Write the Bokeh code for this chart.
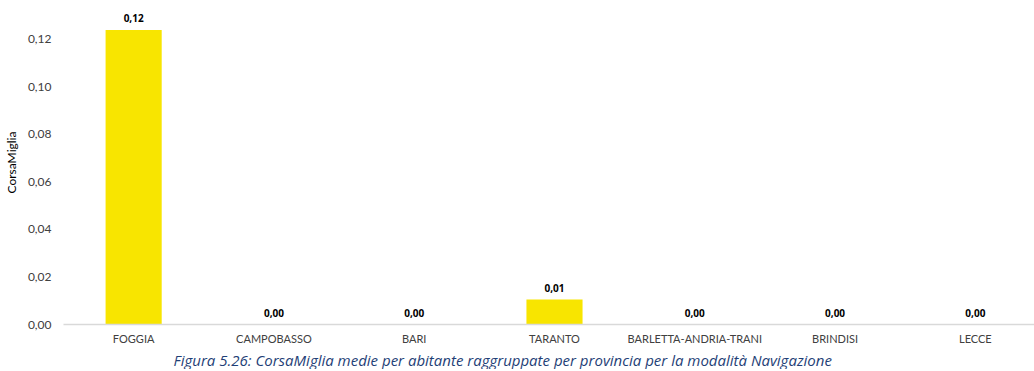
from bokeh.plotting import figure
from bokeh.models import ColumnDataSource, LabelSet, Range1d, FixedTicker, Title
from bokeh.core.properties import value
from bokeh.embed import file_html
from bokeh.resources import INLINE

provinces = ["FOGGIA", "CAMPOBASSO", "BARI", "TARANTO", "BARLETTA-ANDRIA-TRANI", "BRINDISI", "LECCE"]
values = [0.124, 0.0, 0.0, 0.0105, 0.0, 0.0, 0.0]
y_ticks = [0.0, 0.02, 0.04, 0.06, 0.08, 0.10, 0.12]
y_axis_title = "CorsaMiglia"
caption = "Figura 5.26: CorsaMiglia medie per abitante raggruppate per provincia per la modalità Navigazione"

labels = [f"{v:.2f}".replace(".", ",") for v in values]
src = ColumnDataSource(dict(x=provinces, top=values, label=labels))

FONT = "Lato"

p = figure(x_range=provinces, y_range=Range1d(0, 0.1364), frame_width=982, frame_height=324,
           output_backend="svg", toolbar_location=None,
           min_border_left=48, min_border_right=0, min_border_top=0, min_border_bottom=0)
p.outline_line_color = None
p.background_fill_color = "white"
p.border_fill_color = "white"
p.xgrid.grid_line_color = None
p.ygrid.grid_line_color = None

p.vbar(x="x", top="top", width=0.4, source=src, fill_color="#F8E500", line_color=None)

p.add_layout(LabelSet(x="x", y="top", text="label", source=src, text_align="center",
                      text_baseline="bottom", y_offset=8, text_font=value("Open Sans"),
                      text_font_size="10px", text_font_style="bold", text_color="#000000"))

# y axis
p.yaxis.ticker = FixedTicker(ticks=y_ticks)
p.yaxis.major_label_overrides = {t: f"{t:.2f}".replace(".", ",") for t in y_ticks}
p.yaxis.axis_line_color = None
p.yaxis.major_tick_line_color = None
p.yaxis.minor_tick_line_color = None
p.yaxis.major_label_text_font = FONT
p.yaxis.major_label_text_font_size = "12px"
p.yaxis.major_label_text_color = "#404040"
p.yaxis.major_label_standoff = 6
p.yaxis.axis_label = y_axis_title
p.yaxis.axis_label_text_font = FONT
p.yaxis.axis_label_text_font_size = "12px"
p.yaxis.axis_label_text_font_style = "normal"
p.yaxis.axis_label_text_color = "#000000"
p.yaxis.axis_label_standoff = 6

# x axis
p.xaxis.axis_line_color = "#D9D9D9"
p.xaxis.axis_line_width = 1.5
p.xaxis.major_tick_line_color = None
p.xaxis.minor_tick_line_color = None
p.xaxis.major_label_text_font = FONT
p.xaxis.major_label_text_font_size = "11px"
p.xaxis.major_label_text_color = "#404040"
p.xaxis.major_label_standoff = 1

p.add_layout(Title(text=caption, align="left", offset=110, standoff=0,
                   text_font="Open Sans", text_font_size="15px",
                   text_font_style="italic", text_color="#1F3F77"), "below")

open("out.html", "w").write(file_html(p, INLINE))
